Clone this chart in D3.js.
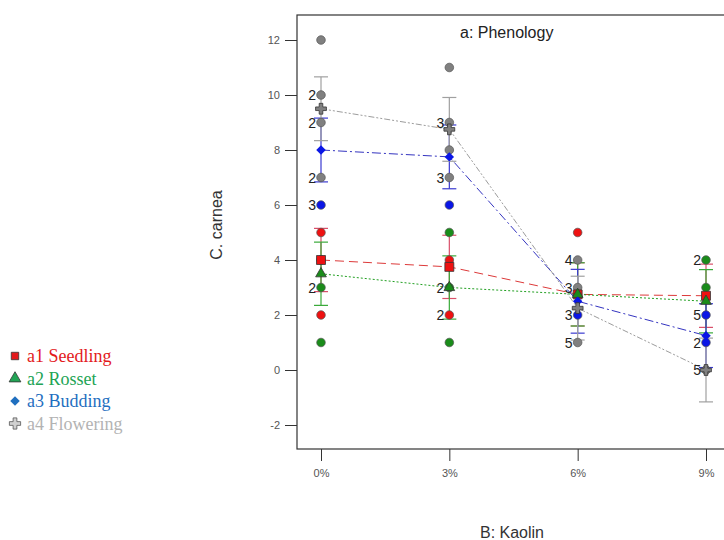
<!DOCTYPE html>
<html>
<head>
<meta charset="utf-8">
<script src="https://cdn.jsdelivr.net/npm/d3@7"></script>
<style>
  body { margin: 0; background: #fff; }
  svg { display: block; }
</style>
</head>
<body>
<div id="chart"></div>
<script>
// kaolin levels on the x axis
let levels = ['0%', '3%', '6%', '9%'];
let yTicks = [-2, 0, 2, 4, 6, 8, 10, 12];
let groups = ['a1 Seedling', 'a2 Rosset', 'a3 Budding', 'a4 Flowering'];

// means per phenology stage at each kaolin level
let meansSeedling = [4.0, 3.75, 2.75, 2.7];
let meansRosset = [3.5, 3.0, 2.75, 2.5];
let meansBudding = [8.0, 7.75, 2.5, 1.25];
let meansFlowering = [9.5, 8.75, 2.25, 0.0];

// half width of the LSD bars
let lsdHalf = [1.15, 1.15, 1.16, 1.16];

// observed points: [level, value, count]
let obsSeedling = [['0%', 5, 1], ['0%', 2, 1], ['3%', 4, 1], ['3%', 2, 2], ['6%', 5, 1]];
let obsRosset = [['0%', 4, 1], ['0%', 3, 2], ['0%', 1, 1], ['3%', 5, 1], ['3%', 3, 2], ['3%', 1, 1],
  ['9%', 4, 2], ['9%', 3, 1]];
let obsBudding = [['0%', 6, 3], ['3%', 6, 1], ['6%', 2, 3], ['9%', 2, 5], ['9%', 1, 2]];
let obsFlowering = [['0%', 12, 1], ['0%', 10, 2], ['0%', 9, 2], ['0%', 7, 2],
  ['3%', 11, 1], ['3%', 9, 3], ['3%', 8, 1], ['3%', 7, 3],
  ['6%', 4, 4], ['6%', 3, 3], ['6%', 1, 5], ['9%', 0, 5]];

let series = [
  {name: groups[0], means: meansSeedling, obs: obsSeedling, half: lsdHalf[0],
    point: '#ee1111', line: '#dd3a3a', err: '#d9506a', dash: '9,5', shape: d3.symbolSquare, size: 80, rot: 0,
    legend: '#e31a1c'},
  {name: groups[1], means: meansRosset, obs: obsRosset, half: lsdHalf[1],
    point: '#1a8c1a', line: '#22a022', err: '#3aaa3a', dash: '2,2', shape: d3.symbolTriangle, size: 50, rot: 0,
    legend: '#22a455'},
  {name: groups[2], means: meansBudding, obs: obsBudding, half: lsdHalf[2],
    point: '#0a16e6', line: '#3434c0', err: '#3a3ad0', dash: '9,3,2,3', shape: d3.symbolSquare, size: 45, rot: 45,
    legend: '#1f6fbf'},
  {name: groups[3], means: meansFlowering, obs: obsFlowering, half: lsdHalf[3],
    point: '#808080', line: '#9c9c9c', err: '#a0a0a0', dash: '6,2,2,2,2,2', shape: d3.symbolCross, size: 65, rot: 0,
    legend: '#b3b3b3'}
];

let width = 724, height = 540;
let frame = {left: 297, top: 15, right: 735, bottom: 449};

let svg = d3.select('#chart').append('svg')
  .attr('width', width)
  .attr('height', height);

let x = d3.scalePoint().domain(levels).range([321, 706]);
let y = d3.scaleLinear().domain([-2, 12]).range([425, 40]);

////////////////////////////// axes and frame //////////////////////////////

svg.append('rect')
  .attr('x', frame.left)
  .attr('y', frame.top)
  .attr('width', frame.right - frame.left)
  .attr('height', frame.bottom - frame.top)
  .attr('fill', 'none')
  .attr('stroke', '#333')
  .attr('stroke-width', 1.2);

let yAxis = svg.append('g')
  .attr('transform', 'translate(' + frame.left + ',0)')
  .call(d3.axisLeft(y).tickValues(yTicks).tickSize(12).tickPadding(5)
    .tickFormat(function (d) { return String(d); }));

let xAxis = svg.append('g')
  .attr('transform', 'translate(0,' + frame.bottom + ')')
  .call(d3.axisBottom(x).tickSize(12).tickPadding(8));

[yAxis, xAxis].forEach(function (ax) {
  ax.select('.domain').remove();
  ax.selectAll('line').attr('stroke', '#333');
  ax.selectAll('text')
    .attr('fill', '#555')
    .style('font-family', 'Arial, "Liberation Sans", sans-serif')
    .style('font-size', '11px');
});

svg.append('text')
  .attr('x', 460)
  .attr('y', 38)
  .attr('fill', '#222')
  .style('font-family', 'Arial, "Liberation Sans", sans-serif')
  .style('font-size', '16px')
  .text('a: Phenology');

svg.append('text')
  .attr('transform', 'translate(222,225) rotate(-90)')
  .attr('text-anchor', 'middle')
  .attr('fill', '#333')
  .style('font-family', 'Arial, "Liberation Sans", sans-serif')
  .style('font-size', '16px')
  .text('C. carnea');

svg.append('text')
  .attr('x', 512)
  .attr('y', 538)
  .attr('text-anchor', 'middle')
  .attr('fill', '#333')
  .style('font-family', 'Arial, "Liberation Sans", sans-serif')
  .style('font-size', '16px')
  .text('B: Kaolin');

///////////////////////////// mean lines //////////////////////////////////

let line = d3.line()
  .x(function (d, i) { return x(levels[i]); })
  .y(function (d) { return y(d); });

let plot = svg.append('g');

series.forEach(function (s) {
  plot.append('path')
    .attr('d', line(s.means))
    .attr('fill', 'none')
    .attr('stroke', s.line)
    .attr('stroke-width', 1)
    .attr('stroke-dasharray', s.dash);
});

// LSD bars
series.forEach(function (s) {
  let g = plot.append('g').attr('stroke', s.err).attr('stroke-width', 1.2);
  s.means.forEach(function (m, i) {
    let cx = x(levels[i]);
    g.append('line').attr('x1', cx).attr('x2', cx).attr('y1', y(m - s.half)).attr('y2', y(m + s.half));
    [m - s.half, m + s.half].forEach(function (v) {
      g.append('line').attr('x1', cx - 7).attr('x2', cx + 7).attr('y1', y(v)).attr('y2', y(v));
    });
  });
});

///////////////////////////// observed points /////////////////////////////

series.forEach(function (s) {
  s.obs.forEach(function (o) {
    let cx = x(o[0]), cy = y(o[1]);
    plot.append('circle')
      .attr('cx', cx)
      .attr('cy', cy)
      .attr('r', 4.3)
      .attr('fill', s.point)
      .attr('stroke', '#555')
      .attr('stroke-width', 0.7);
    if (o[2] > 1) {
      plot.append('text')
        .attr('x', cx - 5)
        .attr('y', cy + 5)
        .attr('text-anchor', 'end')
        .attr('fill', '#222')
        .style('font-family', 'Arial, "Liberation Sans", sans-serif')
        .style('font-size', '14px')
        .text(o[2]);
    }
  });
});

// mean markers
series.forEach(function (s) {
  plot.selectAll(null)
    .data(s.means)
    .enter().append('path')
    .attr('transform', function (d, i) {
      return 'translate(' + x(levels[i]) + ',' + y(d) + ') rotate(' + s.rot + ')';
    })
    .attr('d', d3.symbol().type(s.shape).size(s.size))
    .attr('fill', s.point)
    .attr('stroke', s.rot ? 'none' : '#333')
    .attr('stroke-width', 0.8);
});

//////////////////////////////// legend ///////////////////////////////////

let legend = svg.append('g');
series.forEach(function (s, i) {
  let ly = 356 + i * 22.5;
  legend.append('path')
    .attr('transform', 'translate(15,' + ly + ') rotate(' + s.rot + ')')
    .attr('d', d3.symbol().type(s.shape).size([55, 60, 45, 70][i]))
    .attr('fill', i === 3 ? '#d0d0d0' : s.legend)
    .attr('stroke', i === 2 ? 'none' : (i === 3 ? '#555' : '#333'))
    .attr('stroke-width', 0.8);
  legend.append('text')
    .attr('x', 27)
    .attr('y', ly + 6)
    .attr('fill', s.legend)
    .style('font-family', '"Liberation Serif", "Times New Roman", serif')
    .style('font-size', '18px')
    .text(s.name);
});
</script>
</body>
</html>
